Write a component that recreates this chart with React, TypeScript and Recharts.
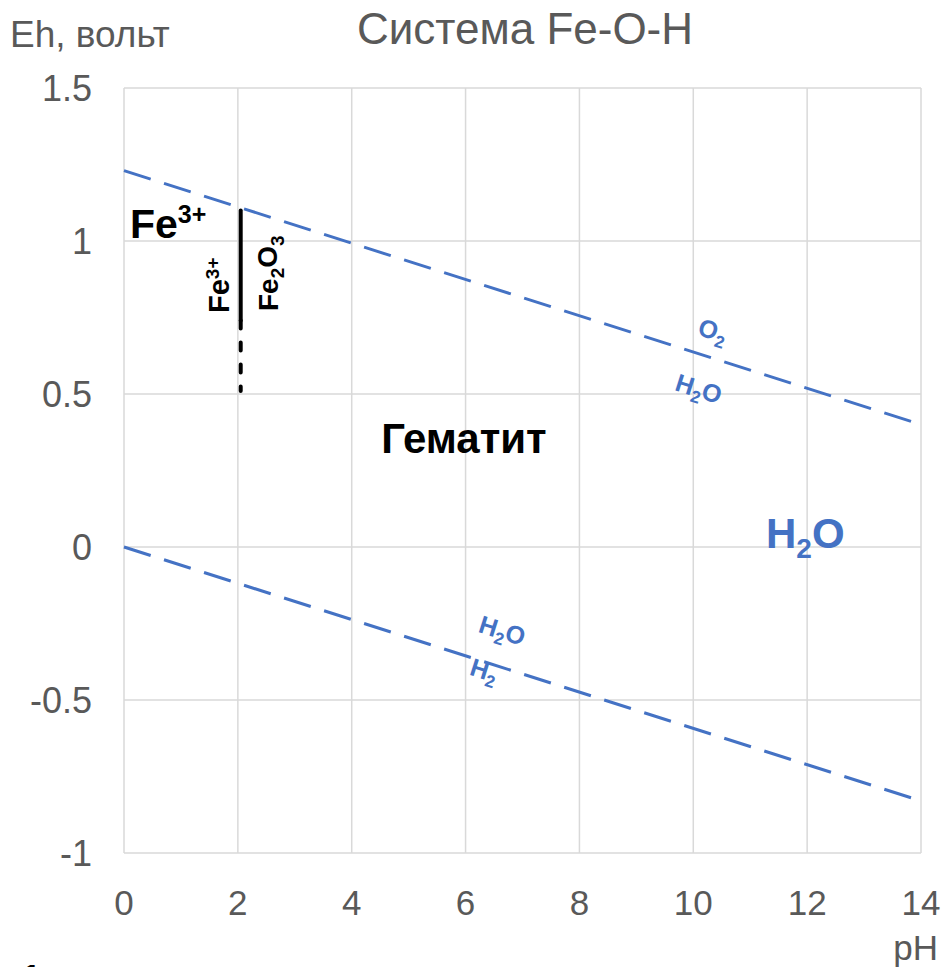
import React from "react";
import { CartesianGrid, Line, LineChart, XAxis, YAxis } from "recharts";

// Eh-pH diagram, system Fe-O-H
const phTicks = [0, 2, 4, 6, 8, 10, 12, 14];
const ehTicks = [-1, -0.5, 0, 0.5, 1, 1.5];

// water stability limits
const o2Water = [
  { ph: 0, eh: 1.23 },
  { ph: 14, eh: 0.4 },
];
const waterH2 = [
  { ph: 0, eh: 0 },
  { ph: 14, eh: -0.83 },
];

// Fe3+ / Fe2O3 boundary
const feBoundarySolid = [
  { ph: 2.05, eh: 1.1 },
  { ph: 2.05, eh: 0.74 },
];
const feBoundaryDashed = [
  { ph: 2.05, eh: 0.74 },
  { ph: 2.05, eh: 0.51 },
];

const W = 945;
const H = 967;
const LEFT = 124;
const RIGHT = 921;
const TOP = 88;
const BOTTOM = 853;
const FONT = "'Liberation Sans', Arial, sans-serif";
const GREY = "#595959";
const BLUE = "#4472C4";

const px = (ph: number) => LEFT + ((RIGHT - LEFT) * ph) / 14;
const py = (eh: number) => TOP + ((BOTTOM - TOP) * (1.5 - eh)) / 2.5;

// slope of water lines on screen
const ANGLE = (Math.atan((0.0592 * (BOTTOM - TOP)) / 2.5 / ((RIGHT - LEFT) / 14)) * 180) / Math.PI;

function XTick({ x, y, payload }: any) {
  return (
    <text x={x} y={y + 54} textAnchor="middle" fill={GREY} fontSize={35} fontFamily={FONT}>
      {payload.value}
    </text>
  );
}

function YTick({ x, y, payload }: any) {
  return (
    <text x={x} y={y + 13} textAnchor="end" fill={GREY} fontSize={36} fontFamily={FONT}>
      {payload.value}
    </text>
  );
}

function Sub({ children, size }: { children: React.ReactNode; size: number }) {
  return (
    <tspan fontSize={size} dy={size * 0.35}>
      {children}
    </tspan>
  );
}

export default function App() {
  return (
    <div style={{ position: "absolute", left: 0, top: 0, width: W, height: H, background: "#fff" }}>
      <LineChart width={W} height={H} margin={{ top: TOP, right: W - RIGHT, bottom: 54, left: 0 }}>
        <CartesianGrid stroke="#d9d9d9" strokeWidth={1.5} />
        <XAxis
          type="number"
          dataKey="ph"
          domain={[0, 14]}
          ticks={phTicks}
          height={H - BOTTOM - 54}
          axisLine={false}
          tickLine={false}
          tick={<XTick />}
          interval={0}
        />
        <YAxis
          type="number"
          dataKey="eh"
          domain={[-1, 1.5]}
          ticks={ehTicks}
          width={LEFT}
          axisLine={false}
          tickLine={false}
          tickSize={0}
          tickMargin={32}
          tick={<YTick />}
          interval={0}
        />
        <Line
          data={o2Water}
          dataKey="eh"
          stroke={BLUE}
          strokeWidth={3}
          strokeDasharray="28 14"
          dot={false}
          isAnimationActive={false}
        />
        <Line
          data={waterH2}
          dataKey="eh"
          stroke={BLUE}
          strokeWidth={3}
          strokeDasharray="28 14"
          dot={false}
          isAnimationActive={false}
        />
        <Line
          data={feBoundarySolid}
          dataKey="eh"
          stroke="#000"
          strokeWidth={4}
          strokeLinecap="round"
          dot={false}
          isAnimationActive={false}
        />
        <Line
          data={feBoundaryDashed}
          dataKey="eh"
          stroke="#000"
          strokeWidth={4}
          strokeLinecap="round"
          strokeDasharray="8 14"
          dot={false}
          isAnimationActive={false}
        />
      </LineChart>

      <svg width={W} height={H} style={{ position: "absolute", left: 0, top: 0, pointerEvents: "none" }}>
        <g fontFamily={FONT}>
          <text x={525} y={44} textAnchor="middle" fill={GREY} fontSize={44}>
            Система Fe-O-H
          </text>
          <text x={10} y={47} fill={GREY} fontSize={37}>
            Eh, вольт
          </text>
          <text x={938} y={960} textAnchor="end" fill={GREY} fontSize={35}>
            pH
          </text>
          <text x={22} y={988} fill="#000" fontSize={34} fontWeight="bold">
            1
          </text>

          {/* Fe3+ field */}
          <text x={130} y={238} fill="#000" fontSize={41} fontWeight="bold">
            Fe<tspan fontSize={25} dy={-15}>3+</tspan>
          </text>
          <text
            transform={`translate(${px(2.05) - 12}, 313) rotate(-90)`}
            fill="#000"
            fontSize={29}
            fontWeight="bold"
          >
            Fe<tspan fontSize={19} dy={-10}>3+</tspan>
          </text>
          <text
            transform={`translate(${px(2.05) + 37}, 311) rotate(-90)`}
            fill="#000"
            fontSize={28}
            fontWeight="bold"
          >
            Fe<Sub size={19}>2</Sub>
            <tspan dy={-7}>O</tspan>
            <Sub size={19}>3</Sub>
          </text>

          <text x={464} y={453} textAnchor="middle" fill="#000" fontSize={42} fontWeight="bold">
            Гематит
          </text>

          <text x={766} y={548} fill={BLUE} fontSize={42} fontWeight="bold">
            H<Sub size={28}>2</Sub>
            <tspan dy={-10}>O</tspan>
          </text>

          {/* water line labels */}
          <text
            transform={`translate(${px(10.3)}, ${py(0.68)}) rotate(${ANGLE})`}
            textAnchor="middle"
            fill={BLUE}
            fontSize={25}
            fontWeight="bold"
          >
            O<Sub size={17}>2</Sub>
          </text>
          <text
            transform={`translate(${px(10.05)}, ${py(0.49)}) rotate(${ANGLE})`}
            textAnchor="middle"
            fill={BLUE}
            fontSize={25}
            fontWeight="bold"
          >
            H<Sub size={17}>2</Sub>
            <tspan dy={-6}>O</tspan>
          </text>
          <text
            transform={`translate(${px(6.6)}, ${py(-0.3)}) rotate(${ANGLE})`}
            textAnchor="middle"
            fill={BLUE}
            fontSize={25}
            fontWeight="bold"
          >
            H<Sub size={17}>2</Sub>
            <tspan dy={-6}>O</tspan>
          </text>
          <text
            transform={`translate(${px(6.28)}, ${py(-0.43)}) rotate(${ANGLE})`}
            textAnchor="middle"
            fill={BLUE}
            fontSize={25}
            fontWeight="bold"
          >
            H<Sub size={17}>2</Sub>
          </text>
        </g>
      </svg>
    </div>
  );
}
